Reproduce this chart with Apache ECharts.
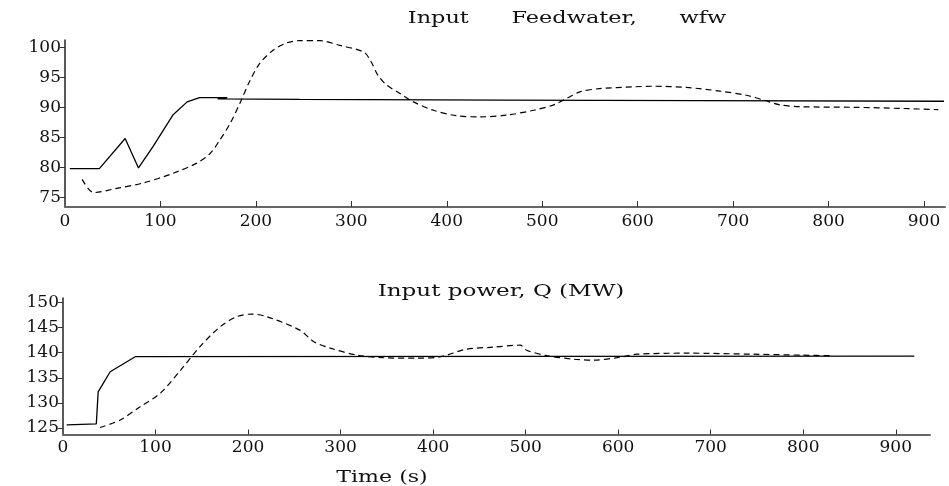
<!DOCTYPE html>
<html>
<head>
<meta charset="utf-8">
<script src="https://cdn.jsdelivr.net/npm/echarts@6/dist/echarts.min.js"></script>
<style>
html, body { margin: 0; padding: 0; background: #fff; }
#chart { width: 949px; height: 486px; }
</style>
</head>
<body>
<div id="chart"></div>
<script>
// tick labels
var timeLabels = [0, 100, 200, 300, 400, 500, 600, 700, 800, 900];
var timeTicks = [100, 200, 300, 400, 500, 600, 700, 800, 900];
var wfwLabels = [75, 80, 85, 90, 95, 100];
var qLabels = [125, 130, 135, 140, 145, 150];

// feedwater, solid (actual)
var wfwSolidT = [5, 36, 63, 77, 92, 113, 128, 141, 155, 170, 160, 246, 456, 665, 921];
var wfwSolidV = [79.8, 79.8, 84.8, 79.9, 83.4, 88.7, 90.9, 91.6, 91.6, 91.6, 91.4, 91.3, 91.2, 91.1, 91.0];
// feedwater, dashed
var wfwDashT = [18, 30, 54, 82, 113, 138, 152, 162, 173, 183, 194, 204, 218, 232, 246, 267, 288, 313, 320, 328, 337, 351, 365, 386, 410, 435, 463, 491, 512, 526, 540, 560, 595, 616, 651, 686, 714, 732, 749, 770, 826, 878, 915];
var wfwDashV = [78.0, 75.8, 76.5, 77.4, 79.0, 80.7, 82.3, 84.5, 87.3, 90.6, 94.5, 97.3, 99.5, 100.7, 101.1, 101.1, 100.3, 99.2, 97.8, 95.3, 93.7, 92.3, 90.9, 89.5, 88.6, 88.4, 88.7, 89.5, 90.4, 91.5, 92.6, 93.1, 93.4, 93.5, 93.3, 92.7, 92.0, 91.2, 90.4, 90.1, 90.0, 89.8, 89.6];

// input power, solid
var qSolidT = [4, 36, 38, 51, 78, 920];
var qSolidV = [125.6, 125.8, 132.2, 136.2, 139.2, 139.3];
// input power, dashed
var qDashT = [40, 62, 83, 105, 127, 148, 170, 188, 204, 220, 256, 271, 289, 318, 346, 382, 408, 436, 465, 494, 501, 523, 552, 573, 602, 620, 674, 746, 800, 833];
var qDashV = [125.1, 126.6, 129.2, 131.9, 136.5, 141.2, 145.2, 147.2, 147.7, 147.2, 144.5, 142.2, 140.9, 139.5, 139.0, 138.9, 139.2, 140.7, 141.1, 141.5, 140.5, 139.4, 138.7, 138.5, 139.1, 139.7, 139.9, 139.7, 139.5, 139.4];

function pairs(t, v) {
  return t.map(function (x, i) { return [x, v[i]]; });
}

var font = 'DejaVu Serif';
var labelStyle = { fontFamily: font, fontSize: 17, color: '#111' };

function xAxisFor(grid, max, margin, tickLen) {
  return {
    gridIndex: grid,
    type: 'value',
    min: 0,
    max: max,
    axisLine: { lineStyle: { color: '#666', width: 2 } },
    axisTick: { inside: true, length: tickLen, customValues: timeTicks, lineStyle: { color: '#333', width: 1 } },
    axisLabel: Object.assign({ customValues: timeLabels, margin: margin }, labelStyle),
    splitLine: { show: false }
  };
}

function yAxisFor(grid, min, max, labels) {
  return {
    gridIndex: grid,
    type: 'value',
    min: min,
    max: max,
    axisLine: { show: true, lineStyle: { color: '#222', width: 1.5 } },
    axisTick: { show: true, length: 5, customValues: labels, lineStyle: { color: '#333' } },
    axisLabel: Object.assign({ customValues: labels, margin: 4 }, labelStyle),
    splitLine: { show: false }
  };
}

function lineSeries(idx, data, dashed) {
  return {
    type: 'line',
    xAxisIndex: idx,
    yAxisIndex: idx,
    data: data,
    showSymbol: false,
    smooth: dashed ? 0.3 : false,
    lineStyle: { color: '#000', width: dashed ? 1.2 : 1.3, type: dashed ? [6, 4] : 'solid' }
  };
}

function caption(text, x, y, sx) {
  return {
    type: 'text', x: x, y: y, scaleX: sx,
    style: { text: text, font: '16px ' + font, fill: '#111', align: 'center', verticalAlign: 'middle' }
  };
}

var chart = echarts.init(document.getElementById('chart'));
chart.setOption({
  animation: false,
  backgroundColor: '#fff',
  grid: [
    { left: 65, top: 40, width: 880, height: 167 },
    { left: 63, top: 298, width: 867, height: 136.5 }
  ],
  xAxis: [xAxisFor(0, 922, 6, 6), xAxisFor(1, 937, 5, 5)],
  yAxis: [yAxisFor(0, 73.4, 101.2, wfwLabels), yAxisFor(1, 123.7, 150.9, qLabels)],
  series: [
    lineSeries(0, pairs(wfwSolidT, wfwSolidV), false),
    lineSeries(0, pairs(wfwDashT, wfwDashV), true),
    lineSeries(1, pairs(qSolidT, qSolidV), false),
    lineSeries(1, pairs(qDashT, qDashV), true)
  ],
  graphic: [
    caption('Input      Feedwater,      wfw', 567, 19, 1.4),
    caption('Input power, Q (MW)', 501, 292, 1.44),
    caption('Time (s)', 382, 478, 1.38)
  ]
});
</script>
</body>
</html>
